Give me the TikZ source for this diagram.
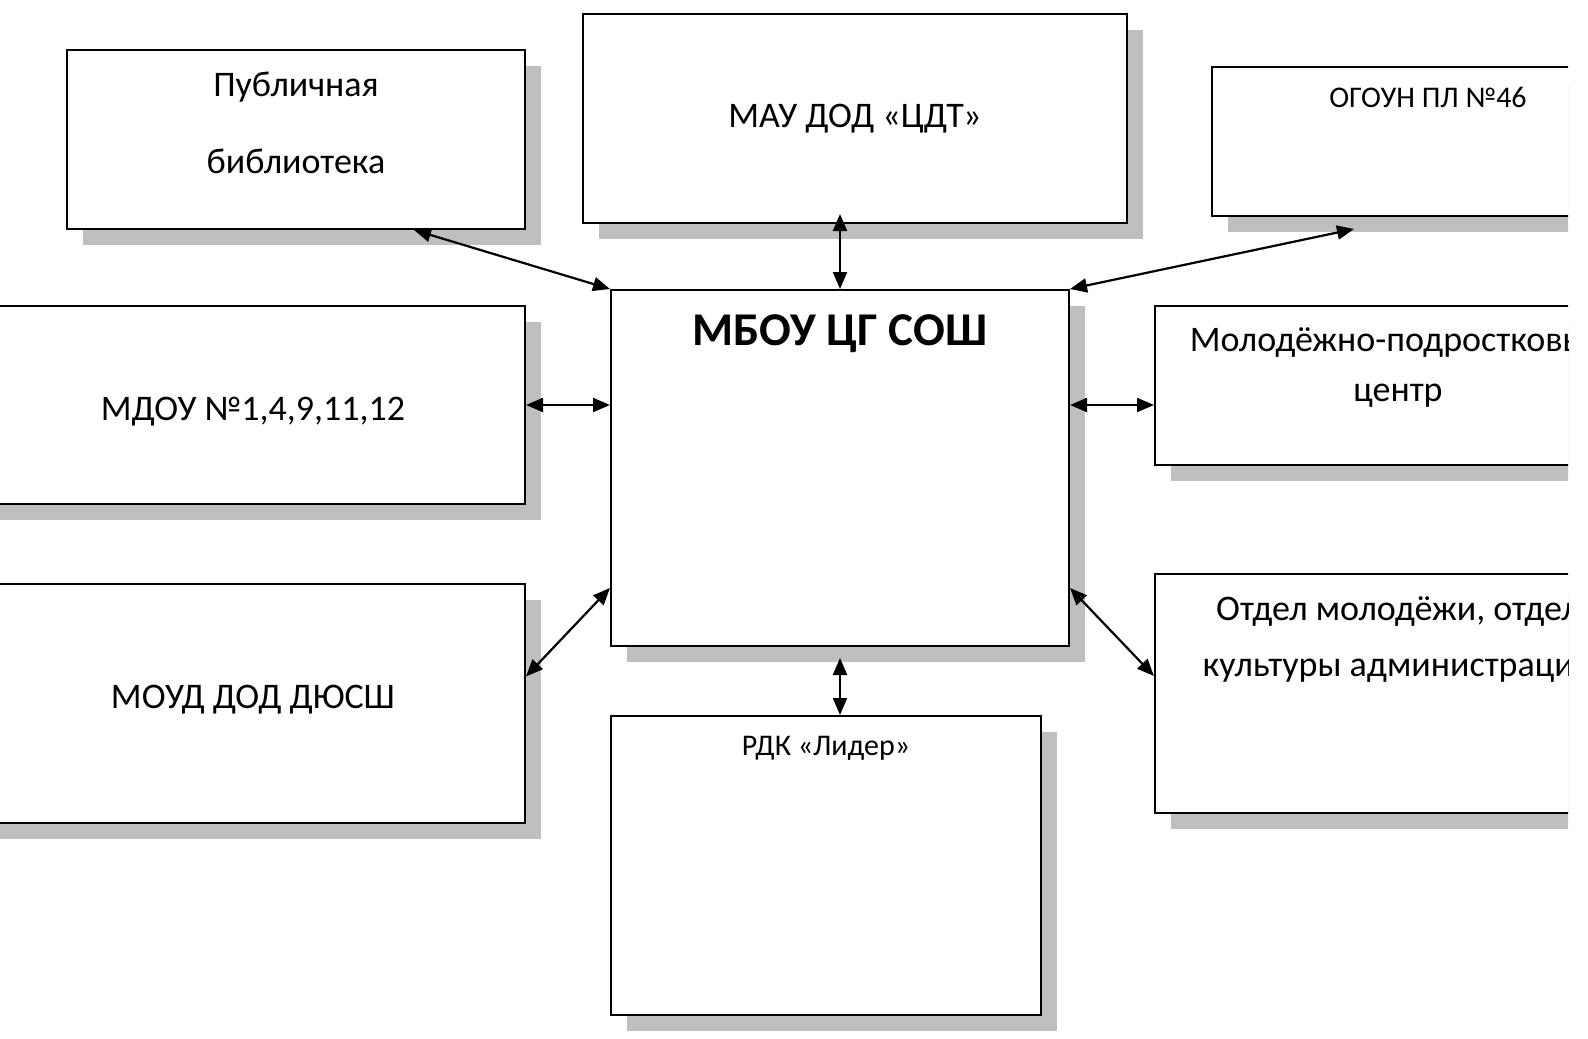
\documentclass[tikz,border=0pt]{standalone}
\usepackage{fontspec}
\setmainfont{Carlito}
\usetikzlibrary{arrows.meta,shadows,positioning}
\definecolor{shadowgray}{RGB}{191,191,191}

\begin{document}
\begin{tikzpicture}[x=1pt,y=-1pt,
  box/.style={draw=black, line width=2pt, fill=white, rectangle, inner sep=0pt,
    drop shadow={shadow xshift=16pt, shadow yshift=-16pt, fill=shadowgray, opacity=1}},
  txt/.style={anchor=base, inner sep=0pt, font=\fontsize{36}{43}\selectfont},
  smalltxt/.style={txt, font=\fontsize{30}{36}\selectfont},
  titletxt/.style={txt, font=\fontsize{47}{56}\selectfont\bfseries},
  >={Triangle[length=17pt,width=14pt]}]
\useasboundingbox (0,0) rectangle (1588,1039);
\clip (0,0) rectangle (1568,1039);
%% блоки
\node[box, minimum width=458pt, minimum height=179pt] (lib) at (296,139.5) {};
\node[box, minimum width=544pt, minimum height=209pt] (cdt) at (855,118.5) {};
\node[box, minimum width=432pt, minimum height=149pt] (ogoun) at (1428,141.5) {};
\node[box, minimum width=458pt, minimum height=356pt] (school) at (840,468) {};
\node[box, minimum width=544pt, minimum height=198pt] (mdou) at (253,405) {};
\node[box, minimum width=486pt, minimum height=159pt] (mpc) at (1398,385.5) {};
\node[box, minimum width=544pt, minimum height=239pt] (sport) at (253,703.5) {};
\node[box, minimum width=486pt, minimum height=239pt] (otdel) at (1398,693.5) {};
\node[box, minimum width=430pt, minimum height=299pt] (rdk) at (826,865.5) {};
%% надписи
\node[txt] (lib1) at ([yshift=-47pt]lib.north) {Публичная};
\node[txt] (lib2) at ([yshift=-124pt]lib.north) {библиотека};
\node[txt] (cdt1) at ([yshift=-114pt]cdt.north) {МАУ ДОД «ЦДТ»};
\node[smalltxt] (ogoun1) at ([yshift=-41pt]ogoun.north) {ОГОУН ПЛ №46};
\node[titletxt] (school1) at ([yshift=-56pt]school.north) {МБОУ ЦГ СОШ};
\node[txt] (mpc1) at ([yshift=-46pt]mpc.north) {Молодёжно-подростковый};
\node[txt] (mpc2) at ([yshift=-96pt]mpc.north) {центр};
\node[txt] (mdou1) at ([yshift=-115pt]mdou.north) {МДОУ №1,4,9,11,12};
\node[txt] (otdel1) at ([yshift=-47pt]otdel.north) {Отдел молодёжи, отдел};
\node[txt] (otdel2) at ([yshift=-103pt]otdel.north) {культуры администрации};
\node[txt] (sport1) at ([yshift=-125pt]sport.north) {МОУД ДОД ДЮСШ};
\node[smalltxt] (rdk1) at ([yshift=-40pt]rdk.north) {РДК «Лидер»};
%% связи
\draw[black, line width=2.2pt, <->] ([xshift=-112pt]lib.south east) -- (school.north west);
\draw[black, line width=2.2pt, <->] ([yshift=10pt]school.north |- cdt.south) -- (school.north);
\draw[black, line width=2.2pt, <->] (school.north east) -- ([xshift=143pt,yshift=-12pt]ogoun.south west);
\draw[black, line width=2.2pt, <->] (mdou.east) -- (school.west |- mdou.east);
\draw[black, line width=2.2pt, <->] (school.east |- mdou.east) -- (mpc.west |- mdou.east);
\draw[black, line width=2.2pt, <->] ([yshift=27pt]sport.east) -- ([yshift=-120pt]school.west);
\draw[black, line width=2.2pt, <->] ([yshift=-120pt]school.east) -- ([yshift=17.5pt]otdel.west);
\draw[black, line width=2.2pt, <->] ([yshift=-11pt]school.south) -- (school.south |- rdk.north);

\end{tikzpicture}
\end{document}
